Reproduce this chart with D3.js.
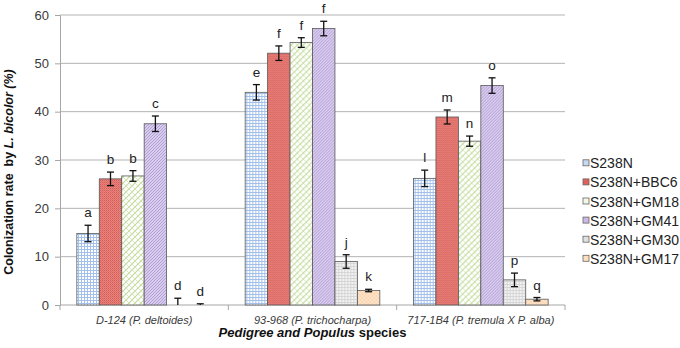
<!DOCTYPE html>
<html>
<head>
<meta charset="utf-8">
<script src="https://cdn.jsdelivr.net/npm/d3@7"></script>
<style>
  body { margin: 0; background: #fff; }
  text { font-family: "Liberation Sans", Arial, sans-serif; }
</style>
</head>
<body>
<div id="chart"></div>
<script>
// categories (pedigree) and treatments
var categories = ["D-124 (P. deltoides)", "93-968 (P. trichocharpa)", "717-1B4 (P. tremula X P. alba)"];
var seriesNames = ["S238N", "S238N+BBC6", "S238N+GM18", "S238N+GM41", "S238N+GM30", "S238N+GM17"];

// colonization rate (%) per series, one value per category
var valS238N = [14.8, 44.0, 26.2];
var valBBC6  = [26.1, 52.1, 38.9];
var valGM18  = [26.7, 54.3, 33.9];
var valGM41  = [37.5, 57.2, 45.4];
var valGM30  = [0.2, 9.0, 5.2];
var valGM17  = [0.05, 3.0, 1.2];

// standard errors
var errS238N = [1.7, 1.6, 1.7];
var errBBC6  = [1.4, 1.5, 1.45];
var errGM18  = [1.1, 1.0, 1.05];
var errGM41  = [1.6, 1.5, 1.6];
var errGM30  = [1.2, 1.4, 1.4];
var errGM17  = [0.2, 0.25, 0.35];

// significance letters
var letS238N = ["a", "e", "l"];
var letBBC6  = ["b", "f", "m"];
var letGM18  = ["b", "f", "n"];
var letGM41  = ["c", "f", "o"];
var letGM30  = ["d", "j", "p"];
var letGM17  = ["d", "k", "q"];

var yTicks = [0, 10, 20, 30, 40, 50, 60];

var values  = [valS238N, valBBC6, valGM18, valGM41, valGM30, valGM17];
var errors  = [errS238N, errBBC6, errGM18, errGM41, errGM30, errGM17];
var letters = [letS238N, letBBC6, letGM18, letGM41, letGM30, letGM17];

var W = 680, H = 348;
var svg = d3.select("#chart").append("svg").attr("width", W).attr("height", H);

// fill patterns, one per series
var defs = svg.append("defs");
function pattern(id, size, bg, draw) {
  var p = defs.append("pattern").attr("id", id)
    .attr("patternUnits", "userSpaceOnUse")
    .attr("width", size).attr("height", size);
  p.append("rect").attr("width", size).attr("height", size).attr("fill", bg);
  draw(p);
}
pattern("p0", 3, "#ffffff", function(p){
  p.append("rect").attr("width", 3).attr("height", 1).attr("fill", "#a3c0ea");
  p.append("rect").attr("width", 1).attr("height", 3).attr("fill", "#a3c0ea");
});
pattern("p1", 2, "#e9827c", function(p){
  p.append("rect").attr("width", 1).attr("height", 1).attr("fill", "#cf5f59");
  p.append("rect").attr("x", 1).attr("y", 1).attr("width", 1).attr("height", 1).attr("fill", "#e46d67");
});
pattern("p2", 6, "#ffffff", function(p){
  p.append("path").attr("d", "M0,6L6,0M-1,1L1,-1M5,7L7,5").attr("stroke", "#c2d99a").attr("stroke-width", 1.1);
  p.append("path").attr("d", "M0,0L6,6M-1,5L1,7M5,-1L7,1").attr("stroke", "#d5e6b8").attr("stroke-width", 0.9);
});
pattern("p3", 3, "#d9cdee", function(p){
  p.append("path").attr("d", "M0,3L3,0M-1,1L1,-1M2,4L4,2").attr("stroke", "#a893cf").attr("stroke-width", 0.8);
});
pattern("p4", 3, "#d6d6d6", function(p){
  p.append("rect").attr("width", 2).attr("height", 2).attr("fill", "#f2f2f2");
});
pattern("p5", 4, "#fee3c8", function(p){
  p.append("path").attr("d", "M0,4L4,0M0,0L4,4").attr("stroke", "#f6cfa6").attr("stroke-width", 0.6);
});
var legendFill = ["#c6d9f1", "#e0605a", "#f2f7e8", "#c9b9e3", "#e0e0e0", "#fde0c2"];

// scales
var margin = { left: 60, right: 565, top: 15, bottom: 305 };
var y = d3.scaleLinear().domain([0, 60]).range([margin.bottom, margin.top]);
var x0 = d3.scaleBand().domain(categories).range([margin.left, margin.right]).padding(0);
// Excel gap width 150%: outer half gaps = 0.75 bar
var gap = x0.bandwidth() * 0.75 / 7.5;
var x1 = d3.scaleBand().domain(d3.range(seriesNames.length))
  .range([gap, x0.bandwidth() - gap]).padding(0);

// gridlines
svg.append("g").selectAll("line").data(yTicks.filter(function(d){ return d > 0; }))
  .enter().append("line")
  .attr("x1", margin.left).attr("x2", margin.right)
  .attr("y1", function(d){ return y(d); }).attr("y2", function(d){ return y(d); })
  .attr("stroke", "#b3b3b3").attr("stroke-width", 1);

// y axis
var yAxis = svg.append("g").attr("transform", "translate(" + margin.left + ",0)")
  .call(d3.axisLeft(y).tickValues(yTicks).tickSize(5).tickPadding(6));
yAxis.select(".domain").attr("stroke", "#a6a6a6");
yAxis.selectAll(".tick line").attr("stroke", "#a6a6a6");
yAxis.selectAll(".tick text").attr("fill", "#3a3a3a").style("font-size", "13px")
  .style("font-family", "Liberation Sans, Arial, sans-serif");

// x axis
var xAxis = svg.append("g").attr("transform", "translate(0," + margin.bottom + ")");
xAxis.append("line").attr("x1", margin.left).attr("x2", margin.right)
  .attr("stroke", "#a6a6a6");
xAxis.selectAll(".sep").data(categories.concat(["end"])).enter().append("line")
  .attr("x1", function(d, i){ return i < categories.length ? x0(d) : margin.right; })
  .attr("x2", function(d, i){ return i < categories.length ? x0(d) : margin.right; })
  .attr("y1", 0).attr("y2", 5).attr("stroke", "#a6a6a6");
xAxis.selectAll(".lbl").data(categories).enter().append("text")
  .attr("x", function(d){ return x0(d) + x0.bandwidth() / 2; })
  .attr("y", 19).attr("text-anchor", "middle")
  .style("font-size", "11px").style("font-style", "italic").attr("fill", "#3a3a3a")
  .text(function(d){ return d; });

// bars
var groups = svg.append("g").selectAll("g").data(categories).enter().append("g")
  .attr("transform", function(d){ return "translate(" + x0(d) + ",0)"; });

groups.each(function(cat, ci) {
  var g = d3.select(this);
  seriesNames.forEach(function(s, si) {
    var v = values[si][ci], e = errors[si][ci];
    var bx = x1(si), bw = x1.bandwidth(), cx = bx + bw / 2;
    if (v > 0.5) {
      g.append("rect").attr("x", bx).attr("y", y(v))
        .attr("width", bw).attr("height", y(0) - y(v))
        .attr("fill", "url(#p" + si + ")")
        .attr("stroke", "#595959").attr("stroke-width", 0.8);
    }
    // error bar (clipped at 0)
    var top = y(v + e), bot = y(Math.max(0, v - e));
    g.append("line").attr("x1", cx).attr("x2", cx).attr("y1", top).attr("y2", bot)
      .attr("stroke", "#111").attr("stroke-width", 1.3);
    g.append("line").attr("x1", cx - 3.5).attr("x2", cx + 3.5).attr("y1", top).attr("y2", top)
      .attr("stroke", "#111").attr("stroke-width", 1.3);
    if (v - e > 0) {
      g.append("line").attr("x1", cx - 3.5).attr("x2", cx + 3.5).attr("y1", bot).attr("y2", bot)
        .attr("stroke", "#111").attr("stroke-width", 1.3);
    }
    g.append("text").attr("x", cx).attr("y", top - 8)
      .attr("text-anchor", "middle").style("font-size", "13.5px").attr("fill", "#222")
      .text(letters[si][ci]);
  });
});

// y title
svg.append("text")
  .attr("transform", "translate(13," + ((margin.top + margin.bottom) / 2 + 12) + ") rotate(-90)")
  .attr("text-anchor", "middle")
  .style("font-size", "12.5px").style("font-weight", "bold").attr("fill", "#111")
  .html('Colonization rate&#160; by <tspan font-style="italic">L. bicolor (%)</tspan>');

// x title
svg.append("text")
  .attr("x", (margin.left + margin.right) / 2 + 0).attr("y", 337)
  .attr("text-anchor", "middle")
  .style("font-size", "13px").style("font-weight", "bold").attr("fill", "#111")
  .html('<tspan font-style="italic">Pedigree and Populus</tspan> species');

// legend
var legend = svg.append("g").selectAll("g").data(seriesNames).enter().append("g")
  .attr("transform", function(d, i){ return "translate(583," + (163.3 + i * 19.1) + ")"; });
legend.append("rect").attr("x", 0).attr("y", -3.5).attr("width", 6).attr("height", 6)
  .attr("fill", function(d, i){ return legendFill[i]; })
  .attr("stroke", "#666").attr("stroke-width", 0.8);
legend.append("text").attr("x", 7).attr("y", 5)
  .style("font-size", "14px").attr("fill", "#222")
  .text(function(d){ return d; });
</script>
</body>
</html>
